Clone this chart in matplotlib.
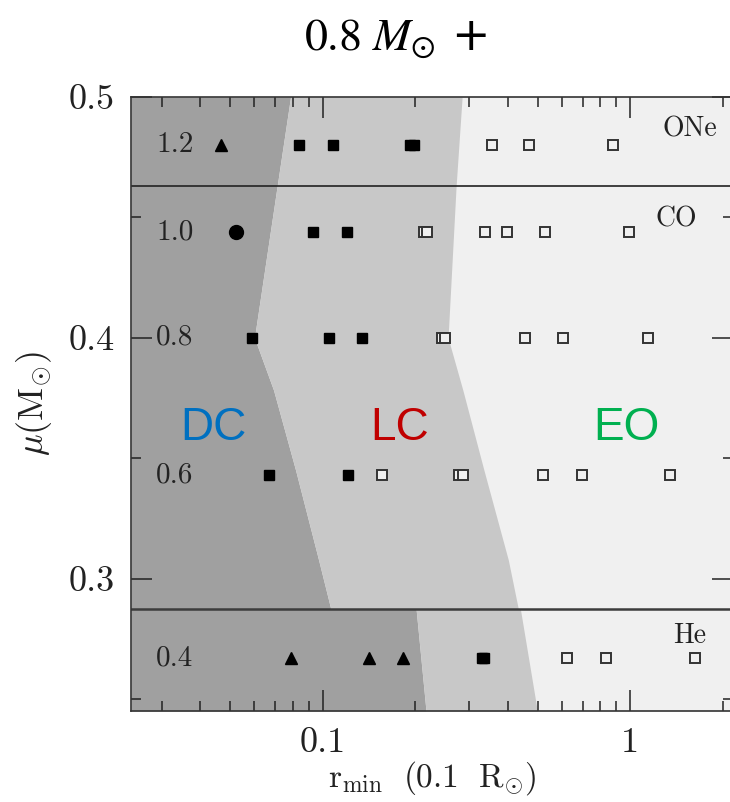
import numpy as np
import matplotlib
matplotlib.use("Agg")
import matplotlib.pyplot as plt
from matplotlib.ticker import FixedLocator, NullFormatter, LogLocator, MultipleLocator

plt.rcParams["mathtext.fontset"] = "cm"
plt.rcParams["axes.formatter.use_mathtext"] = True
plt.rcParams["font.family"] = ["cmr10", "DejaVu Serif"]

# companion white dwarf rows (mass label, reduced mass mu)
row_labels = ["1.2", "1.0", "0.8", "0.6", "0.4"]
row_mu = [0.48, 0.444, 0.40, 0.343, 0.267]

# composition boundaries
one_line_mu = 0.463
he_line_mu = 0.2875

# r_min of the runs, grouped by marker
tri_r = [0.0468, 0.0786, 0.1417, 0.1824]
tri_mu = [0.48, 0.267, 0.267, 0.267]

circ_r = [0.0524]
circ_mu = [0.444]

fsq_r = [0.0835, 0.1078, 0.1922, 0.198,
         0.0932, 0.1198,
         0.0587, 0.1048, 0.1347,
         0.0671, 0.121,
         0.3302, 0.3352]
fsq_mu = [0.48, 0.48, 0.48, 0.48,
          0.444, 0.444,
          0.40, 0.40, 0.40,
          0.343, 0.343,
          0.267, 0.267]

osq_r = [0.355, 0.47, 0.88,
         0.214, 0.219, 0.336, 0.3985, 0.527, 0.994,
         0.2435, 0.25, 0.454, 0.604, 1.146,
         0.1554, 0.2778, 0.2863, 0.522, 0.697, 1.35,
         0.621, 0.836, 1.623]
osq_mu = [0.48] * 3 + [0.444] * 6 + [0.40] * 5 + [0.343] * 6 + [0.267] * 3

# region boundaries DC|LC and LC|EO
bound_mu = [0.5, 0.463, 0.40, 0.3783, 0.3451, 0.3077, he_line_mu, he_line_mu, 0.245]
dc_lc_r = [0.0786, 0.0711, 0.0600, 0.0692, 0.0816, 0.097, 0.1062, 0.2012, 0.2168]
lc_eo_r = [0.2841, 0.2716, 0.2557, 0.2856, 0.3344, 0.4016, 0.4326, 0.4393, 0.499]

xtick_vals = [0.1, 1]
xtick_labels = ["0.1", "1"]
ytick_vals = [0.3, 0.4, 0.5]
ytick_labels = ["0.3", "0.4", "0.5"]

xlim = (0.0238, 2.16)
ylim = (0.245, 0.5)

fig = plt.figure(figsize=(7.3, 8.02), dpi=100)
ax = fig.add_axes([131 / 730, 91 / 802, 602 / 730, 614 / 802])
ax.set_xscale("log")
ax.set_xlim(xlim)
ax.set_ylim(ylim)

# shaded regions
ax.set_facecolor("#f0f0f0")
ax.fill_betweenx(bound_mu, xlim[0], dc_lc_r, color="#a0a0a0", lw=0, zorder=0)
ax.fill_betweenx(bound_mu, dc_lc_r, lc_eo_r, color="#c8c8c8", lw=0, zorder=0)

ax.axhline(one_line_mu, color="#222222", lw=1.2, zorder=1)
ax.axhline(he_line_mu, color="#3c3c3c", lw=1.8, zorder=1)

# runs
ax.plot(osq_r, osq_mu, "s", ms=7.2, mfc="#f0f0f0", mec="#333333", mew=1.4, zorder=3)
ax.plot(fsq_r, fsq_mu, "s", ms=7.2, color="black", zorder=3)
ax.plot(tri_r, tri_mu, "^", ms=8.5, color="black", zorder=3)
ax.plot(circ_r, circ_mu, "o", ms=10, color="black", zorder=3)

# row labels
for lab, mu in zip(row_labels, row_mu):
    ax.text(0.073, mu, lab, transform=ax.get_yaxis_transform(),
            ha="center", va="center", fontsize=21, color="#222222")

ax.text(0.928, 0.948, "ONe", ha="center", va="center", transform=ax.transAxes,
        fontsize=20, color="#222222")
ax.text(0.906, 0.8, "CO", ha="center", va="center", transform=ax.transAxes,
        fontsize=20, color="#222222")
ax.text(0.928, 0.122, "He", ha="center", va="center", transform=ax.transAxes,
        fontsize=20, color="#222222")

# region names
sans = "Liberation Sans"
ax.text(0.137, 0.4617, "DC", transform=ax.transAxes, ha="center", va="center",
        fontsize=33, color="#0070c0", family=sans)
ax.text(0.4457, 0.4617, "LC", transform=ax.transAxes, ha="center", va="center",
        fontsize=33, color="#c00000", family=sans)
ax.text(0.823, 0.4617, "EO", transform=ax.transAxes, ha="center", va="center",
        fontsize=33, color="#00b050", family=sans)

# axes, ticks
ax.xaxis.set_major_locator(FixedLocator(xtick_vals))
ax.set_xticklabels(xtick_labels)
ax.xaxis.set_minor_locator(LogLocator(base=10, subs=np.arange(2, 10)))
ax.xaxis.set_minor_formatter(NullFormatter())
ax.yaxis.set_major_locator(FixedLocator(ytick_vals))
ax.set_yticklabels(ytick_labels)
ax.yaxis.set_minor_locator(MultipleLocator(0.05))

ax.tick_params(which="both", direction="in", top=True, right=True,
               color="#222222", width=1.1, labelsize=26, labelcolor="#222222")
ax.tick_params(which="major", length=15)
ax.tick_params(which="minor", length=7.5)
ax.tick_params(axis="x", pad=12)
ax.tick_params(axis="y", pad=12)
for sp in ax.spines.values():
    sp.set_color("#333333")
    sp.set_linewidth(1.2)

fig.text(432 / 730, 1 - 787 / 802,
         r"$\mathrm{r}_{\mathrm{min}}\ \ (0.1\ \ \mathrm{R}_{\odot})$",
         ha="center", va="baseline", fontsize=24, color="#222222")
ax.set_ylabel(r"$\mu(\mathrm{M}_{\odot})$", fontsize=26, color="#222222", labelpad=10)

fig.text(396 / 730, 1 - 38 / 802, r"$0.8\ M_{\odot}$ +", ha="center", va="center",
         fontsize=33, math_fontfamily="stix", family="DejaVu Sans", color="black")

fig.savefig("out.png", dpi=100)
